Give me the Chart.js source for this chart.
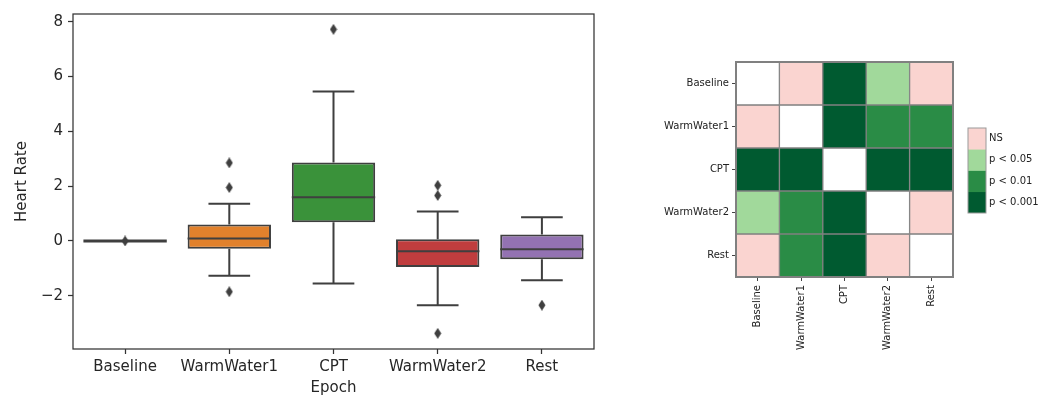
<!DOCTYPE html>
<html>
<head>
<meta charset="utf-8">
<script src="https://cdn.jsdelivr.net/npm/chart.js@4"></script>
<style>
  html, body { margin: 0; padding: 0; background: #ffffff; }
  body { width: 1051px; height: 399px; position: relative; overflow: hidden; }
  canvas { position: absolute; top: 0; }
  #box { left: 0; }
  #heat { left: 640px; }
  #cbar { left: 960px; }
</style>
</head>
<body>
<canvas id="box" width="620" height="399"></canvas>
<canvas id="heat" width="320" height="399"></canvas>
<canvas id="cbar" width="91" height="399"></canvas>
<script>
// ---------------- data ----------------
const categories = ['Baseline', 'WarmWater1', 'CPT', 'WarmWater2', 'Rest'];
const q1 = [0, -0.28, 0.68, -0.95, -0.67];
const q3 = [0, 0.60, 2.86, 0.06, 0.24];
const medians = [0, 0.09, 1.60, -0.37, -0.30];
const whiskerLow = [0, -1.27, -1.55, -2.34, -1.43];
const whiskerHigh = [0, 1.36, 5.45, 1.08, 0.87];
const outliers = [[0], [2.85, 1.95, -1.85], [7.72], [2.03, 1.66, -3.37], [-2.34]];
const yTicks = [-2, 0, 2, 4, 6, 8];

const sigLevels = ['NS', 'p < 0.05', 'p < 0.01', 'p < 0.001'];
// -1 = diagonal (white)
const sigMatrix = [
  [-1, 0, 3, 1, 0],
  [0, -1, 3, 2, 2],
  [3, 3, -1, 3, 3],
  [1, 2, 3, -1, 0],
  [0, 2, 3, 0, -1]
];

// ---------------- styles ----------------
const boxColors = ['#3274a1', '#e1812c', '#3a923a', '#c03d3e', '#9372b2'];
const lineGray = '#3f3f3f';
const levelColors = ['#fad4d0', '#a1d99b', '#2a8c46', '#005a30'];
const FONT = "'DejaVu Sans', sans-serif";

Chart.defaults.font.family = FONT;
Chart.defaults.animation = false;

// diamond marker
const diamond = document.createElement('canvas');
diamond.width = 8; diamond.height = 11;
(function () {
  const c = diamond.getContext('2d');
  c.fillStyle = lineGray;
  c.beginPath();
  c.moveTo(4, 0); c.lineTo(7.5, 5.5); c.lineTo(4, 11); c.lineTo(0.5, 5.5);
  c.closePath(); c.fill();
})();

// ---------------- box plot ----------------
const boxPlugin = {
  id: 'boxParts',
  beforeDatasetsDraw(chart) {
    const { ctx, scales: { x, y } } = chart;
    const meta = chart.getDatasetMeta(0);
    ctx.save();
    ctx.strokeStyle = lineGray;
    ctx.lineWidth = 2;
    ctx.lineCap = 'butt';
    categories.forEach((c, i) => {
      const bar = meta.data[i];
      const cx = x.getPixelForValue(i);
      const half = bar.width / 4;
      const yl = y.getPixelForValue(whiskerLow[i]);
      const yh = y.getPixelForValue(whiskerHigh[i]);
      const y1 = y.getPixelForValue(q1[i]);
      const y3 = y.getPixelForValue(q3[i]);
      ctx.beginPath();
      ctx.moveTo(cx, y1); ctx.lineTo(cx, yl);
      ctx.moveTo(cx, y3); ctx.lineTo(cx, yh);
      ctx.moveTo(cx - half, yl); ctx.lineTo(cx + half, yl);
      ctx.moveTo(cx - half, yh); ctx.lineTo(cx + half, yh);
      ctx.stroke();
    });
    ctx.restore();
  },
  afterDatasetDraw(chart, args) {
    if (args.index !== 0) return;
    const { ctx, scales: { y } } = chart;
    const meta = chart.getDatasetMeta(0);
    ctx.save();
    ctx.strokeStyle = lineGray;
    categories.forEach((c, i) => {
      const bar = meta.data[i];
      const ym = y.getPixelForValue(medians[i]);
      ctx.lineWidth = (q1[i] === q3[i]) ? 3 : 2;
      ctx.beginPath();
      ctx.moveTo(bar.x - bar.width / 2, ym);
      ctx.lineTo(bar.x + bar.width / 2, ym);
      ctx.stroke();
    });
    ctx.restore();
  },
  afterDraw(chart) {
    const { ctx, chartArea: a } = chart;
    ctx.save();
    ctx.strokeStyle = '#333333';
    ctx.lineWidth = 1.25;
    ctx.strokeRect(a.left, a.top, a.right - a.left, a.bottom - a.top);
    ctx.restore();
  }
};

const outlierPoints = [];
outliers.forEach((arr, i) => arr.forEach(v => outlierPoints.push({ x: categories[i], y: v })));

new Chart(document.getElementById('box'), {
  type: 'bar',
  data: {
    labels: categories,
    datasets: [
      {
        data: categories.map((c, i) => [q1[i], q3[i]]),
        backgroundColor: boxColors,
        borderColor: lineGray,
        borderWidth: 2,
        borderSkipped: false,
        barPercentage: 0.8,
        categoryPercentage: 1.0,
        order: 2
      },
      {
        type: 'scatter',
        data: outlierPoints,
        pointStyle: diamond,
        pointRadius: 4,
        order: 1
      }
    ]
  },
  options: {
    responsive: false,
    devicePixelRatio: 1,
    layout: { padding: { top: 13, right: 26, left: 0, bottom: 0 } },
    plugins: { legend: { display: false }, tooltip: { enabled: false } },
    scales: {
      x: {
        type: 'category',
        offset: true,
        grid: { display: true, drawOnChartArea: false, drawTicks: true, tickLength: 5, tickWidth: 1.25, tickColor: '#333', offset: false },
        border: { display: false },
        ticks: { color: '#262626', font: { size: 15 }, padding: 4, maxRotation: 0 },
        title: { display: true, text: 'Epoch', color: '#262626', font: { size: 15 }, padding: { top: 0, bottom: 2 } },
        afterFit(s) { s.height = 50; }
      },
      y: {
        min: -3.94,
        max: 8.28,
        afterBuildTicks(s) { s.ticks = yTicks.map(v => ({ value: v })); },
        grid: { display: true, drawOnChartArea: false, drawTicks: true, tickLength: 5, tickWidth: 1.25, tickColor: '#333' },
        border: { display: false },
        ticks: { color: '#262626', font: { size: 15 }, padding: 5, callback: v => String(v).replace('-', '\u2212') },
        title: { display: true, text: 'Heart Rate', color: '#262626', font: { size: 15 }, padding: { top: 13, bottom: 0 } },
        afterFit(s) { s.width = 73; }
      }
    }
  },
  plugins: [boxPlugin]
});

// ---------------- heatmap ----------------
const framePlugin = (color, width) => ({
  id: 'frame',
  afterDatasetsDraw(chart) {
    const { ctx, chartArea: a } = chart;
    ctx.save();
    ctx.strokeStyle = color;
    ctx.lineWidth = width;
    ctx.strokeRect(a.left, a.top, a.right - a.left, a.bottom - a.top);
    ctx.restore();
  }
});

new Chart(document.getElementById('heat'), {
  type: 'bar',
  data: {
    labels: categories,
    datasets: sigMatrix.map((row, r) => ({
      data: categories.map(() => [r, r + 1]),
      backgroundColor: row.map(l => l < 0 ? '#ffffff' : levelColors[l]),
      borderColor: '#808080',
      borderWidth: 1,
      borderSkipped: false,
      barPercentage: 1,
      categoryPercentage: 1
    }))
  },
  options: {
    responsive: false,
    devicePixelRatio: 1,
    layout: { padding: { top: 62, right: 7, left: 0, bottom: 0 } },
    plugins: { legend: { display: false }, tooltip: { enabled: false } },
    scales: {
      x: {
        stacked: true,
        offset: true,
        grid: { display: true, drawOnChartArea: false, drawTicks: true, tickLength: 4, tickColor: '#444', offset: false },
        border: { display: false },
        ticks: { color: '#222', font: { size: 10 }, padding: 4, minRotation: 90, maxRotation: 90 },
        afterFit(s) { s.height = 122; }
      },
      y: {
        min: 0,
        max: 5,
        reverse: true,
        afterBuildTicks(s) { s.ticks = categories.map((c, i) => ({ value: i + 0.5 })); },
        grid: { display: true, drawOnChartArea: false, drawTicks: true, tickLength: 4, tickColor: '#444' },
        border: { display: false },
        ticks: { color: '#222', font: { size: 10 }, padding: 3, callback: (v, i) => categories[i] },
        afterFit(s) { s.width = 96; }
      }
    }
  },
  plugins: [framePlugin('#808080', 2)]
});

// ---------------- colour bar legend ----------------
new Chart(document.getElementById('cbar'), {
  type: 'bar',
  data: {
    labels: [''],
    datasets: sigLevels.map((lvl, k) => ({
      label: lvl,
      data: [[k, k + 1]],
      backgroundColor: levelColors[k],
      borderWidth: 0,
      barPercentage: 1,
      categoryPercentage: 1
    }))
  },
  options: {
    responsive: false,
    devicePixelRatio: 1,
    layout: { padding: { top: 128, right: 0, left: 8, bottom: 186 } },
    plugins: { legend: { display: false }, tooltip: { enabled: false } },
    scales: {
      x: { stacked: true, display: false },
      y: {
        position: 'right',
        min: 0,
        max: 4,
        reverse: true,
        afterBuildTicks(s) { s.ticks = sigLevels.map((l, k) => ({ value: k + 0.5 })); },
        grid: { display: true, drawOnChartArea: false, drawTicks: false, tickLength: 0 },
        border: { display: false },
        ticks: { color: '#222', font: { size: 10 }, padding: 3, callback: (v, i) => sigLevels[i] },
        afterFit(s) { s.width = 65; }
      }
    }
  },
  plugins: [framePlugin('#9a9a9a', 1)]
});
</script>
</body>
</html>
